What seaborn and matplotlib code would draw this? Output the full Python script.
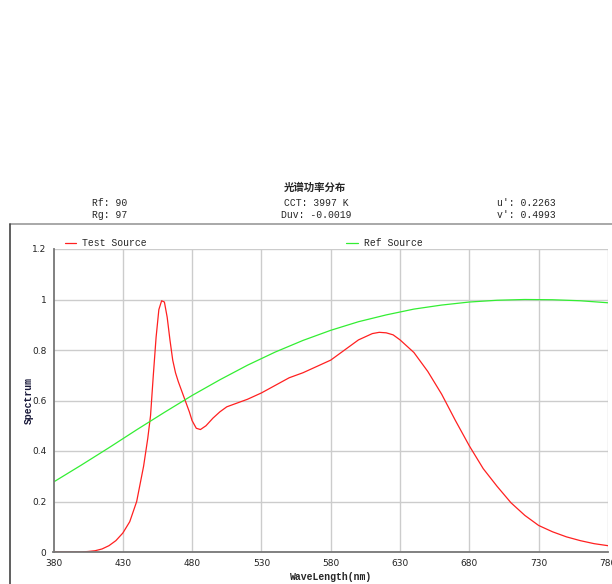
import matplotlib
matplotlib.use("Agg")
import matplotlib.pyplot as plt
from matplotlib.lines import Line2D
import pandas as pd
import seaborn as sns

# ---- data ----
wl_test = [380, 390, 400, 405, 410, 415, 420, 425, 430, 435, 440, 445, 448, 450,
           452, 454, 456, 458, 460, 462, 464, 466, 468, 470, 472, 475, 478, 480,
           483, 486, 490, 495, 500, 505, 510, 520, 530, 540, 550, 560, 570, 580,
           590, 600, 610, 615, 620, 625, 630, 640, 650, 660, 670, 680, 690, 700,
           710, 720, 730, 740, 750, 760, 770, 780]
test_source = [0, 0, 0, 0.002, 0.005, 0.012, 0.025, 0.045, 0.075, 0.12, 0.2, 0.34,
               0.45, 0.54, 0.70, 0.85, 0.96, 0.995, 0.99, 0.93, 0.84, 0.76, 0.71,
               0.675, 0.645, 0.60, 0.555, 0.52, 0.49, 0.485, 0.5, 0.53, 0.555, 0.575,
               0.585, 0.605, 0.63, 0.66, 0.69, 0.71, 0.735, 0.76, 0.8, 0.84, 0.865,
               0.87, 0.868, 0.86, 0.84, 0.79, 0.715, 0.625, 0.52, 0.42, 0.33, 0.26,
               0.195, 0.145, 0.105, 0.08, 0.06, 0.045, 0.033, 0.025]

wl_ref = [380, 400, 420, 440, 460, 480, 500, 520, 540, 560, 580, 600, 620, 640,
          660, 680, 700, 720, 740, 760, 780]
ref_source = [0.277, 0.344, 0.413, 0.484, 0.553, 0.620, 0.682, 0.740, 0.792, 0.838,
              0.878, 0.912, 0.939, 0.962, 0.978, 0.990, 0.997, 1.0, 0.999, 0.995, 0.987]

x_ticks = [380, 430, 480, 530, 580, 630, 680, 730, 780]
y_ticks = [0, 0.2, 0.4, 0.6, 0.8, 1, 1.2]
y_tick_labels = ["0", "0.2", "0.4", "0.6", "0.8", "1", "1.2"]

title = "光谱功率分布"
info_left = ["Rf: 90", "Rg: 97"]
info_mid = ["CCT: 3997 K", "Duv: -0.0019"]
info_right = ["u': 0.2263", "v': 0.4993"]

df_test = pd.DataFrame({"wl": wl_test, "val": test_source})
df_ref = pd.DataFrame({"wl": wl_ref, "val": ref_source})

sns.set_style("whitegrid")
plt.rcParams["font.family"] = ["Liberation Mono", "DejaVu Sans Mono"]

fig = plt.figure(figsize=(6.12, 5.84), dpi=100)
ax = fig.add_axes([53.5 / 612, 1 - 552 / 584, (608 - 53.5) / 612, (552 - 249) / 584])

sns.lineplot(data=df_test, x="wl", y="val", ax=ax, color="#ff2020", linewidth=0.9,
             label="Test Source")
sns.lineplot(data=df_ref, x="wl", y="val", ax=ax, color="#33ee33", linewidth=0.9,
             label="Ref Source")

ax.set_xlim(380, 780)
ax.set_ylim(0, 1.2)
ax.set_xticks(x_ticks)
ax.set_yticks(y_ticks)
ax.set_yticklabels(y_tick_labels)
ax.tick_params(axis="both", labelsize=6.5, length=3, width=0.8, color="#555555",
               pad=2, labelcolor="#222222")
for lab in ax.get_xticklabels() + ax.get_yticklabels():
    lab.set_family(["DejaVu Sans"])
ax.grid(True, color="#cccccc", linewidth=1)
for s in ["top", "right"]:
    ax.spines[s].set_visible(False)
for s in ["left", "bottom"]:
    ax.spines[s].set_color("#777777")
    ax.spines[s].set_linewidth(1.3)

ax.set_xlabel("WaveLength(nm)", fontsize=7, fontweight="bold", labelpad=3)
ax.set_ylabel("Spectrum", fontsize=7, fontweight="bold", color="#1a1a3a")
ax.yaxis.set_label_coords(-0.036, 0.5)

leg = ax.legend(loc="center left", bbox_to_anchor=(0.02, 1.02), ncol=2, frameon=False,
                fontsize=7, handlelength=1.2, handletextpad=0.6, columnspacing=20.5,
                borderaxespad=0, borderpad=0)

# header texts
fig.text(315 / 612, 1 - 188 / 584, title, ha="center", va="center", fontsize=7.5,
         fontweight="bold", family=["Noto Sans CJK SC", "DejaVu Sans"])
for i, (a, b, c) in enumerate(zip(info_left, info_mid, info_right)):
    yy = 1 - (203 + 12 * i) / 584
    fig.text(92 / 612, yy, a, ha="left", va="center", fontsize=7)
    fig.text(316 / 612, yy, b, ha="center", va="center", fontsize=7)
    fig.text(497 / 612, yy, c, ha="left", va="center", fontsize=7)

# outer frame
top_y = 1 - 224 / 584
fig.add_artist(Line2D([10 / 612, 1], [top_y, top_y], color="#999999", linewidth=1.2))
fig.add_artist(Line2D([10 / 612, 10 / 612], [0, top_y], color="#444444", linewidth=1.2))

fig.savefig("out.png", dpi=100)
